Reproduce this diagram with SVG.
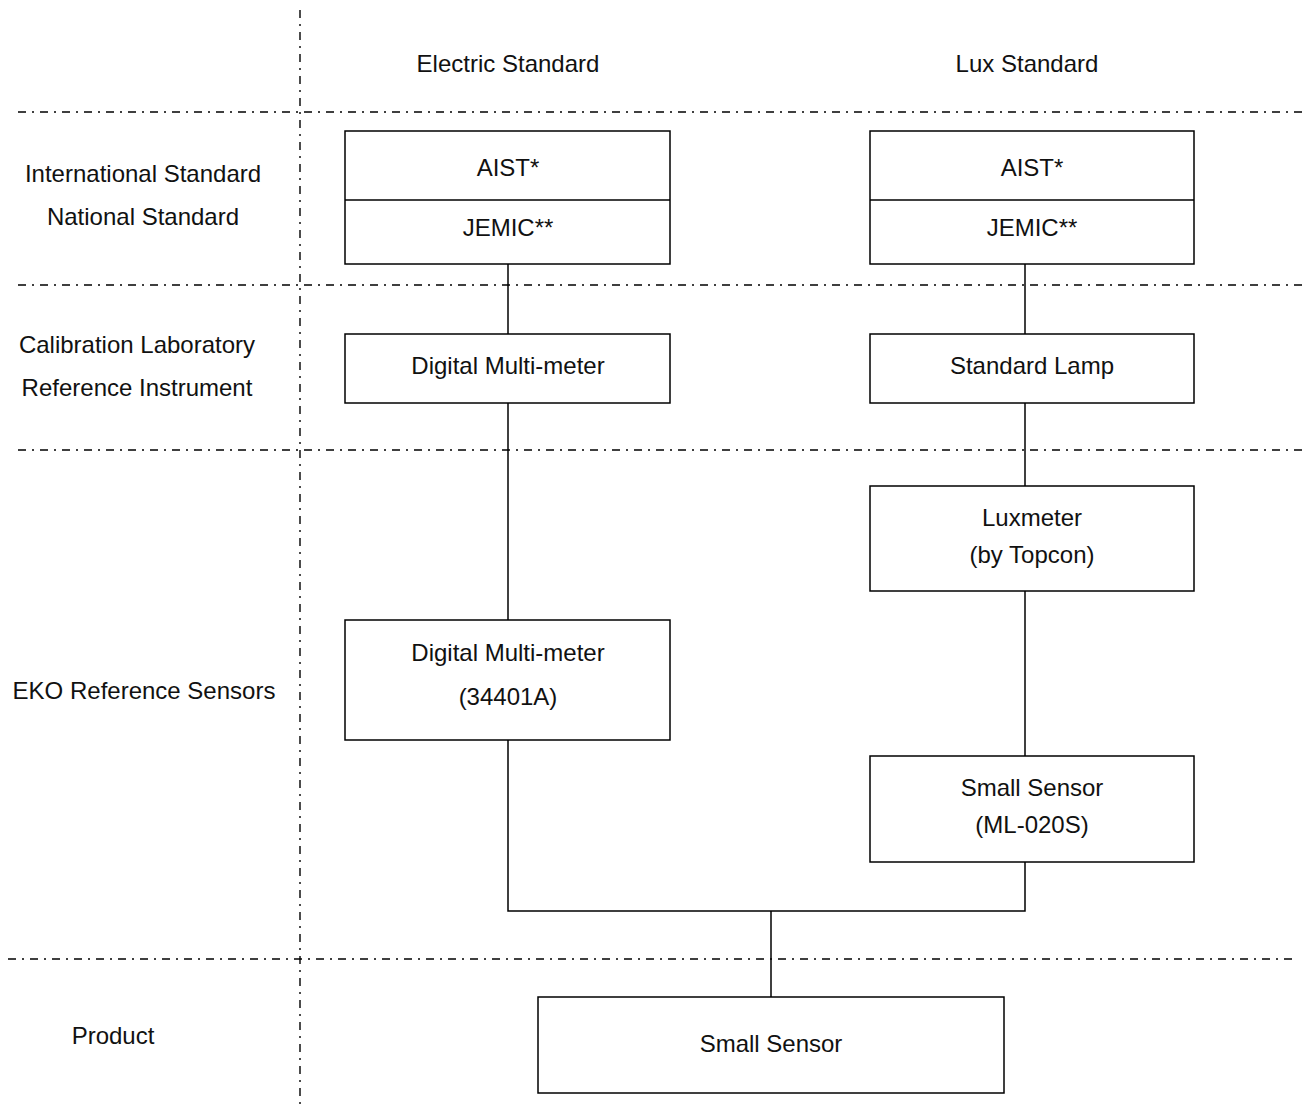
<svg xmlns="http://www.w3.org/2000/svg" width="1304" height="1109" viewBox="0 0 1304 1109">
<style>
.sep{stroke:#000;stroke-width:1.4;stroke-dasharray:8 6 2 6;fill:none}
.box{fill:#fff;stroke:#000;stroke-width:1.5}
.ln{stroke:#000;stroke-width:1.5;fill:none}
text{font-family:"Liberation Sans",Arial,sans-serif;font-size:24px;fill:#111;text-anchor:middle}
</style>
<rect width="1304" height="1109" fill="#fff"/>
<g id="separators">
<line class="sep" x1="300" y1="10" x2="300" y2="1105"/>
<line class="sep" x1="18" y1="112" x2="1304" y2="112"/>
<line class="sep" x1="18" y1="285" x2="1304" y2="285"/>
<line class="sep" x1="18" y1="450" x2="1304" y2="450"/>
<line class="sep" x1="8" y1="959" x2="1294" y2="959"/>
</g>
<g id="labels">
<text x="508" y="72">Electric Standard</text>
<text x="1027" y="72">Lux Standard</text>
<text x="143" y="182">International Standard</text>
<text x="143" y="225">National Standard</text>
<text x="137" y="353">Calibration Laboratory</text>
<text x="137" y="396">Reference Instrument</text>
<text x="144" y="699">EKO Reference Sensors</text>
<text x="113" y="1044">Product</text>
</g>
<g id="connectors">
<line class="ln" x1="508" y1="264" x2="508" y2="334"/>
<line class="ln" x1="508" y1="403" x2="508" y2="620"/>
<line class="ln" x1="1025" y1="264" x2="1025" y2="334"/>
<line class="ln" x1="1025" y1="403" x2="1025" y2="486"/>
<line class="ln" x1="1025" y1="591" x2="1025" y2="756"/>
<polyline class="ln" points="508,740 508,911 1025,911 1025,862"/>
<line class="ln" x1="771" y1="911" x2="771" y2="997"/>
</g>
<g id="node-aist-electric">
<rect class="box" x="345" y="131" width="325" height="133"/>
<line class="ln" x1="345" y1="200" x2="670" y2="200"/>
<text x="508" y="176">AIST*</text>
<text x="508" y="236">JEMIC**</text>
</g>
<g id="node-aist-lux">
<rect class="box" x="870" y="131" width="324" height="133"/>
<line class="ln" x1="870" y1="200" x2="1194" y2="200"/>
<text x="1032" y="176">AIST*</text>
<text x="1032" y="236">JEMIC**</text>
</g>
<g id="node-dmm-lab">
<rect class="box" x="345" y="334" width="325" height="69"/>
<text x="508" y="374">Digital Multi-meter</text>
</g>
<g id="node-lamp">
<rect class="box" x="870" y="334" width="324" height="69"/>
<text x="1032" y="374">Standard Lamp</text>
</g>
<g id="node-luxmeter">
<rect class="box" x="870" y="486" width="324" height="105"/>
<text x="1032" y="526">Luxmeter</text>
<text x="1032" y="563">(by Topcon)</text>
</g>
<g id="node-dmm-eko">
<rect class="box" x="345" y="620" width="325" height="120"/>
<text x="508" y="661">Digital Multi-meter</text>
<text x="508" y="705">(34401A)</text>
</g>
<g id="node-ml020s">
<rect class="box" x="870" y="756" width="324" height="106"/>
<text x="1032" y="796">Small Sensor</text>
<text x="1032" y="833">(ML-020S)</text>
</g>
<g id="node-product">
<rect class="box" x="538" y="997" width="466" height="96"/>
<text x="771" y="1052">Small Sensor</text>
</g>
</svg>
